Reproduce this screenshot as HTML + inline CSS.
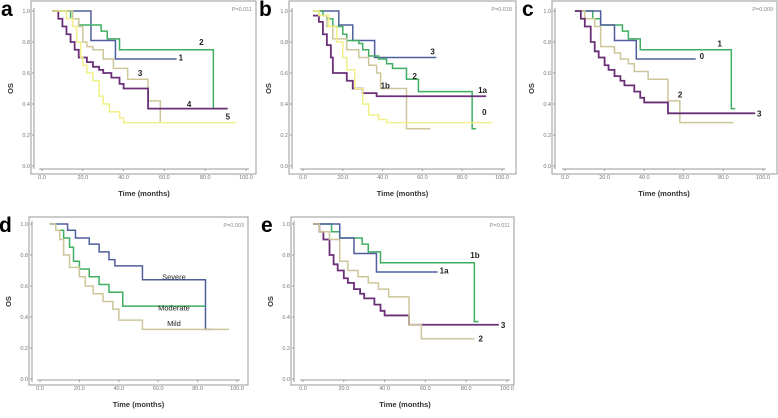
<!DOCTYPE html>
<html><head><meta charset="utf-8"><style>
body{margin:0;background:#fff;}
svg{display:block;font-family:"Liberation Sans",Arial,sans-serif;}
</style></head><body>
<svg id="fig" width="778" height="418" viewBox="0 0 778 418"></svg>
<script>
// ---- data ----
const xTicks = [0, 20, 40, 60, 80, 100];
const xTickLabels = ["0.0","20.0","40.0","60.0","80.0","100.0"];
const yTicks = [0, 0.2, 0.4, 0.6, 0.8, 1.0];
const yTickLabels = ["0.0","0.2","0.4","0.6","0.8","1.0"];

const aLabels = ["1","2","3","4","5"];
const aTimes = [
 [5,24,36,66],
 [5,14,18,29,32,38,84,91],
 [5,15,18,20,22,25,30,35,42,52,58,58],
 [5,8,10,12,14,16,18,22,25,28,30,34,38,40,52,91],
 [5,12,15,17,19,20,22,25,28,30,33,38,40,95]];
const aSurv = [
 [1,0.81,0.69,0.69],
 [1,0.95,0.91,0.87,0.82,0.75,0.37,0.37],
 [1,0.95,0.9,0.8,0.77,0.75,0.69,0.63,0.56,0.42,0.28,0.28],
 [1,0.95,0.9,0.85,0.8,0.75,0.7,0.67,0.64,0.62,0.6,0.57,0.53,0.5,0.37,0.37],
 [1,0.95,0.9,0.8,0.7,0.65,0.6,0.55,0.45,0.4,0.35,0.31,0.28,0.28]];
const aLabT = [67,77,47,71,90];
const aLabS = [0.70,0.80,0.60,0.40,0.32];

const bLabels = ["3","2","1b","1a","0"];
const bTimes = [
 [5,18,25,36,67],
 [5,10,12,15,20,22,28,30,33,38,42,45,52,58,85,87],
 [5,8,12,15,22,28,33,37,39,52,64],
 [5,8,10,12,14,15,22,25,30,37,92],
 [5,8,13,17,20,22,26,30,33,38,42,95]];
const bSurv = [
 [1,0.91,0.81,0.7,0.7],
 [1,0.97,0.95,0.9,0.85,0.81,0.79,0.75,0.71,0.69,0.66,0.63,0.56,0.48,0.24,0.24],
 [1,0.97,0.9,0.82,0.75,0.7,0.65,0.6,0.5,0.24,0.24],
 [0.97,0.93,0.85,0.78,0.7,0.6,0.55,0.5,0.47,0.45,0.45],
 [1,0.97,0.9,0.8,0.7,0.62,0.5,0.4,0.33,0.3,0.28,0.28]];
const bLabT = [64,55,39,88,90];
const bLabS = [0.74,0.58,0.52,0.49,0.35];

const cLabels = ["1","0","2","3"];
const cTimes = [
 [5,14,18,29,32,38,84,86],
 [5,18,25,36,66],
 [5,10,15,18,25,28,32,35,42,52,58,85],
 [5,8,10,13,15,17,20,22,25,28,30,35,38,40,52,96]];
const cSurv = [
 [1,0.95,0.91,0.87,0.82,0.75,0.37,0.37],
 [1,0.91,0.81,0.69,0.69],
 [1,0.95,0.9,0.77,0.73,0.69,0.66,0.61,0.56,0.42,0.28,0.28],
 [1,0.95,0.9,0.8,0.74,0.7,0.65,0.62,0.58,0.55,0.52,0.48,0.44,0.41,0.34,0.34]];
const cLabT = [77,68,57,97];
const cLabS = [0.79,0.71,0.46,0.34];

const dLabels = ["Severe","Moderate","Mild"];
const dTimes = [
 [5,14,18,25,30,35,38,52,84,87],
 [5,8,12,15,17,20,25,30,35,42,58,84],
 [5,8,10,12,15,20,23,27,32,37,40,52,96]];
const dSurv = [
 [1,0.96,0.91,0.87,0.82,0.77,0.73,0.64,0.32,0.32],
 [1,0.96,0.91,0.85,0.76,0.71,0.66,0.61,0.56,0.47,0.47,0.47],
 [1,0.96,0.9,0.8,0.72,0.66,0.6,0.55,0.5,0.45,0.38,0.32,0.32]];
const dLabT = [68,68,68];
const dLabS = [0.66,0.46,0.36];

const eLabels = ["1b","1a","3","2"];
const eTimes = [
 [5,14,18,29,32,38,84,86],
 [5,18,25,36,66],
 [5,8,10,13,15,17,20,22,25,28,30,35,38,40,52,96],
 [5,8,13,18,22,27,32,37,42,52,58,84]];
const eSurv = [
 [1,0.95,0.91,0.87,0.82,0.75,0.37,0.37],
 [1,0.91,0.81,0.69,0.69],
 [1,0.95,0.9,0.8,0.74,0.7,0.65,0.62,0.58,0.55,0.52,0.48,0.44,0.41,0.35,0.35],
 [1,0.95,0.9,0.76,0.7,0.66,0.62,0.58,0.53,0.35,0.26,0.26]];
const eLabT = [82,67,97,86];
const eLabS = [0.80,0.70,0.35,0.26];

// ---- styling / geometry ----
const C = {blue:"#4f5f9e", green:"#3fae62", tan:"#cdc69a", purple:"#6b2f78", yellow:"#f2ef86"};
const NS = "http://www.w3.org/2000/svg";
const svg = document.getElementById("fig");
function mk(tag, attrs, parent){
  const e = document.createElementNS(NS, tag);
  for (const k in attrs) e.setAttribute(k, attrs[k]);
  (parent||svg).appendChild(e);
  return e;
}

function panel(p){
  const g = mk("g", {});
  
  
  const xs = t => p.x0 + (p.x100 - p.x0) * t / 100;
  const ys = s => p.y0 + (p.y1 - p.y0) * s;
  const fr = mk("rect", {x:p.fl, y:p.ft, width:p.fr-p.fl, height:p.fb-p.ft, fill:"#fff", stroke:"#9a9a9a", "stroke-width":1}, g);
  
  
  const ax = p.fl + 3, ay = p.fb - 5;
  mk("line", {x1:ax, y1:ys(1)-3, x2:ax, y2:ys(0)+3, stroke:"#9a9a9a"}, g);
  mk("line", {x1:xs(0)-3, y1:ay, x2:xs(100)+3, y2:ay, stroke:"#9a9a9a"}, g);
  yTicks.forEach((v,i) => {
    mk("line", {x1:ax-2, y1:ys(v), x2:ax, y2:ys(v), stroke:"#9a9a9a"}, g);
    const t = mk("text", {x:ax-4, y:ys(v)+2, "font-size":5.5, fill:"#777", "text-anchor":"end"}, g);
    t.textContent = yTickLabels[i];
    
    
  });
  xTicks.forEach((v,i) => {
    mk("line", {x1:xs(v), y1:ay, x2:xs(v), y2:ay+2, stroke:"#9a9a9a"}, g);
    const t = mk("text", {x:xs(v), y:ay+10, "font-size":5.5, fill:"#777", "text-anchor":"middle"}, g);
    t.textContent = xTickLabels[i];
    
    
  });
  const xt = mk("text", {x:(xs(0)+xs(100))/2, y:p.fb+22, "font-size":7.5, "font-weight":"bold", fill:"#333", "text-anchor":"middle"}, g);
  xt.textContent = "Time (months)";
  
  
  const yt = mk("text", {x:0, y:0, "font-size":7.5, "font-weight":"bold", fill:"#333", "text-anchor":"middle", transform:`translate(${p.fl-18},${(ys(0)+ys(1))/2}) rotate(-90)`}, g);
  yt.textContent = "OS";
  
  
  const lt = mk("text", {x:p.fl-30, y:p.ft+15, "font-size":21, "font-weight":"bold", fill:"#000"}, g);
  lt.textContent = p.letter;
  
  
  const pv = mk("text", {x:p.fr-4, y:p.ft+10, "font-size":5.5, fill:"#888", "text-anchor":"end"}, g);
  pv.textContent = p.pval;
  
  
  p.times.forEach((T,i) => {
    const S = p.surv[i];
    let d = `M${xs(T[0])},${ys(S[0])}`;
    for (let k=1;k<T.length;k++){ d += ` H${xs(T[k])} V${ys(S[k])}`; }
    const path = mk("path", {d:d, fill:"none", stroke:p.colors[i], "stroke-width":p.colors[i]===C.purple?1.8:1.5}, g);
    
    
    const lab = mk("text", {x:xs(p.labT[i]), y:ys(p.labS[i])+3, "font-size":p.lfs, "font-weight":p.lfw, fill:"#222", "text-anchor":p.lanchor||"start"}, g);
    lab.textContent = p.labels[i];
    
    
  });
}

const topRow = {ft:1, fb:174, y0:166, y1:11};
const botRow = {ft:217, fb:385, y0:379, y1:224};
panel(Object.assign({letter:"a", pval:"P=0.011", fl:31, fr:256, x0:42, x100:246, times:aTimes, surv:aSurv, labels:aLabels,
  colors:[C.blue,C.green,C.tan,C.purple,C.yellow], lfs:8, lfw:"bold", labT:aLabT, labS:aLabS}, topRow));
panel(Object.assign({letter:"b", pval:"P=0.018", fl:289, fr:516, x0:303, x100:502, times:bTimes, surv:bSurv, labels:bLabels,
  colors:[C.blue,C.green,C.tan,C.purple,C.yellow], lfs:8, lfw:"bold", labT:bLabT, labS:bLabS}, topRow));
panel(Object.assign({letter:"c", pval:"P=0.009", fl:552, fr:777, x0:565, x100:763, times:cTimes, surv:cSurv, labels:cLabels,
  colors:[C.green,C.blue,C.tan,C.purple], lfs:8, lfw:"bold", labT:cLabT, labS:cLabS}, topRow));
panel(Object.assign({letter:"d", pval:"P=0.003", fl:29, fr:248, x0:40, x100:237, times:dTimes, surv:dSurv, labels:dLabels,
  colors:[C.blue,C.green,C.tan], lfs:7.5, lfw:"normal", lanchor:"middle", labT:dLabT, labS:dLabS}, botRow));
panel(Object.assign({letter:"e", pval:"P=0.011", fl:291, fr:514, x0:303, x100:507, times:eTimes, surv:eSurv, labels:eLabels,
  colors:[C.green,C.blue,C.purple,C.tan], lfs:8, lfw:"bold", labT:eLabT, labS:eLabS}, botRow));
</script>
</body></html>
